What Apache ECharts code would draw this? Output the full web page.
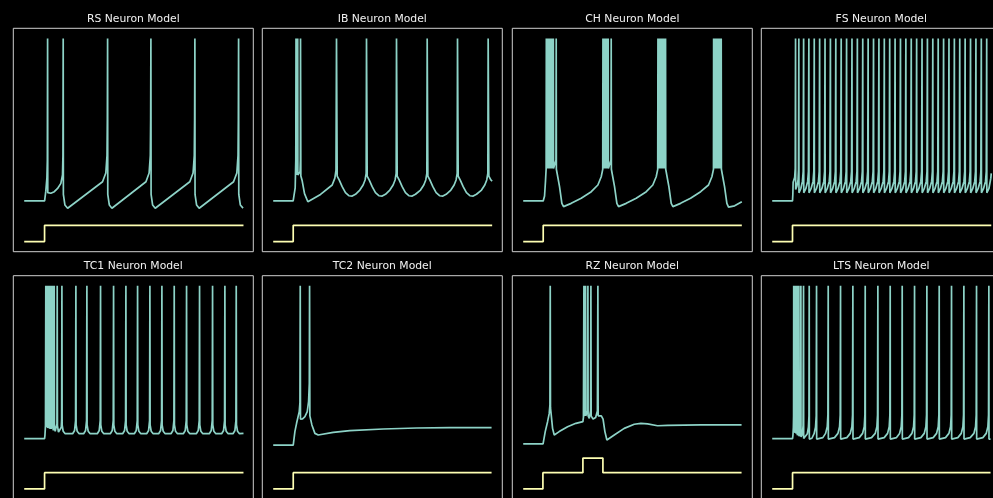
<!DOCTYPE html>
<html><head><meta charset="utf-8">
<script src="https://cdn.jsdelivr.net/npm/echarts@6/dist/echarts.min.js"></script>
<style>html,body{margin:0;padding:0;background:#000;}#chart{width:993px;height:498px;}</style>
</head><body><div id="chart"></div>
<script>
// Titles
const panelTitles = ['RS Neuron Model','IB Neuron Model','CH Neuron Model','FS Neuron Model','TC1 Neuron Model','TC2 Neuron Model','RZ Neuron Model','LTS Neuron Model'];

// Membrane voltage traces [time, mV]
const rsVoltage = [[0,-70],[9.35,-70],[9.9,-64],[10.4,-56],[10.6,-45],[10.72,30],
[10.8,-64.9],[11.2,-64.9],[12.2,-65.3],[13.8,-64.3],[15.3,-62.3],[16.8,-59.2],[17.55,-54],[17.75,-42],[17.87,30],
[17.95,-66],[18.65,-72.5],[19.9,-74.5],[35.9,-58.2],[37.4,-52.8],[37.95,-42],[38.1,-20],[38.22,30],
[38.3,-66],[39.0,-72.5],[40.2,-74.5],[55.8,-58.2],[57.25,-52.8],[57.8,-42],[57.95,-20],[58.07,30],
[58.15,-66],[58.85,-72.5],[60.05,-74.5],[75.9,-58.2],[77.4,-52.8],[77.95,-42],[78.1,-20],[78.23,30],
[78.3,-66],[79.0,-72.5],[80.2,-74.5],[95.95,-58.2],[97.45,-52.8],[98.0,-42],[98.15,-20],[98.26,30],
[98.35,-66],[99.05,-72.5],[100.3,-74.4]];

const ibVoltage = [[0,-70],[9.15,-70],[9.46,-69],[10.07,-62],[10.35,-45],[10.45,30],[10.52,-54],[10.78,-50],[10.84,30],[10.9,-54],[11.16,-50],[11.22,30],[11.3,-54],[11.8,-54.5],[12.3,-52],[12.45,-45],[12.52,30],
[12.67,-54.6],[13.28,-57.6],[14.35,-65.5],[15.88,-70.5],[21.68,-66.0],[27.03,-60.2],[28.25,-56],[28.78,-51],[29.01,30],
[29.32,-54.7],[30.23,-57.1],[31.61,-61.2],[33.11,-64.9],[34.66,-66.8],[36.21,-67.0],[37.71,-65.9],[39.71,-63.3],[41.21,-60.2],[42.11,-57.1],[42.61,-53.0],[42.76,30],
[43.07,-54.7],[43.98,-57.1],[45.36,-61.2],[46.86,-64.9],[48.41,-66.8],[49.96,-67.0],[51.46,-65.9],[53.46,-63.3],[54.96,-60.2],[55.86,-57.1],[56.36,-53.0],[56.51,30],
[56.82,-54.7],[57.73,-57.1],[59.11,-61.2],[60.61,-64.9],[62.16,-66.8],[63.71,-67.0],[65.21,-65.9],[67.52,-63.3],[69.02,-60.2],[69.92,-57.1],[70.42,-53.0],[70.57,30],
[70.88,-54.7],[71.79,-57.1],[73.17,-61.2],[74.67,-64.9],[76.22,-66.8],[77.77,-67.0],[79.27,-65.9],[81.42,-63.3],[82.92,-60.2],[83.82,-57.1],[84.32,-53.0],[84.47,30],
[84.78,-54.7],[85.69,-57.1],[87.07,-61.2],[88.57,-64.9],[90.12,-66.8],[91.67,-67.0],[93.17,-65.9],[95.47,-63.3],[96.97,-60.2],[97.87,-57.1],[98.37,-53.0],[98.52,30],
[98.83,-54.7],[99.74,-57.1],[100.35,-57.8]];

const chVoltage = [[0,-70],[9.17,-70],[9.47,-70],[9.78,-67],[10.2,-58],[10.5,-50.5],
[10.6,30],[10.68,-50],[11.0,30],[11.08,-50],[11.4,30],[11.48,-50],[11.8,30],[11.88,-50],[12.2,30],[12.28,-50],[12.6,30],[12.68,-50],[13.0,30],[13.08,-50],[13.4,30],[13.48,-50],[13.8,30],[13.88,-50],
[14.05,-50.5],[14.67,-51],[15.0,-45],[15.12,30],[15.2,-50.5],[15.58,-51],[16.65,-61.2],[17.72,-71.5],[18.48,-73.5],[22.0,-71.5],[26.58,-68.4],[31.2,-64.3],[34.22,-60.2],[35.75,-55.1],[36.45,-50.6],
[36.55,30],[36.63,-50],[36.95,30],[37.03,-50],[37.35,30],[37.43,-50],[37.75,30],[37.83,-50],[38.15,30],[38.23,-50],[38.55,30],[38.63,-50],[38.95,30],[39.03,-50],
[39.7,-51],[40.2,-45],[40.33,30],[40.41,-50.5],[40.79,-51],[41.86,-61.2],[42.93,-71.5],[43.69,-73.5],[47.21,-71.5],[51.79,-68.4],[56.41,-64.3],[59.4,-60.2],[60.95,-55.1],[61.65,-50.6],
[61.75,30],[61.83,-50],[62.2,30],[62.28,-50],[62.65,30],[62.73,-50],[63.1,30],[63.18,-50],[63.55,30],[63.63,-50],[64.0,30],[64.08,-50],[64.45,30],[64.53,-50],
[64.9,-51],[65.15,-45],[65.24,30],[65.32,-50.5],[65.7,-51],[66.77,-61.2],[67.84,-71.5],[68.6,-73.5],[72.12,-71.5],[76.7,-68.4],[81.32,-64.3],[84.93,-60.2],[86.48,-55.1],[87.2,-50.6],
[87.28,30],[87.36,-50],[87.73,30],[87.81,-50],[88.18,30],[88.26,-50],[88.63,30],[88.71,-50],[89.08,30],[89.16,-50],[89.53,30],[89.61,-50],[89.98,30],[90.06,-50],
[90.4,-51],[90.65,-45],[90.75,30],[90.83,-50.5],[91.21,-51],[92.28,-61.2],[93.35,-71.5],[94.11,-73.8],[96.9,-73],[100.2,-70.5]];

const fsVoltage = [[0,-70],[9.3,-70],[9.45,-66],[9.6,-58.5],[10.3,-55.5],[10.55,-50],[10.70,30],
[10.76,-63],[11.3,-61],[11.85,-57],[12.05,-51],[12.20,30],
[12.26,-65],[13.1,-62.5],[13.85,-58],[14.2,-52],[14.40,30],
[14.46,-65],[15.4,-62.5],[16.25,-58],[16.6,-52],[16.80,30],
[16.86,-65],[17.8,-62.5],[18.72,-58],[19.07,-52],[19.27,30],
[19.33,-65],[20.27,-62.5],[21.19,-58],[21.54,-52],[21.74,30],
[21.8,-65],[22.74,-62.5],[23.66,-58],[24.01,-52],[24.21,30],
[24.27,-65],[25.21,-62.5],[26.13,-58],[26.48,-52],[26.68,30],
[26.74,-65],[27.68,-62.5],[28.6,-58],[28.95,-52],[29.15,30],
[29.21,-65],[30.15,-62.5],[31.07,-58],[31.42,-52],[31.62,30],
[31.68,-65],[32.62,-62.5],[33.54,-58],[33.89,-52],[34.09,30],
[34.15,-65],[35.09,-62.5],[36.01,-58],[36.36,-52],[36.56,30],
[36.62,-65],[37.56,-62.5],[38.48,-58],[38.83,-52],[39.03,30],
[39.09,-65],[40.03,-62.5],[40.95,-58],[41.3,-52],[41.5,30],
[41.56,-65],[42.5,-62.5],[43.42,-58],[43.77,-52],[43.97,30],
[44.03,-65],[44.97,-62.5],[45.89,-58],[46.24,-52],[46.44,30],
[46.5,-65],[47.44,-62.5],[48.36,-58],[48.71,-52],[48.91,30],
[48.97,-65],[49.91,-62.5],[50.83,-58],[51.18,-52],[51.38,30],
[51.44,-65],[52.38,-62.5],[53.3,-58],[53.65,-52],[53.85,30],
[53.91,-65],[54.85,-62.5],[55.77,-58],[56.12,-52],[56.32,30],
[56.38,-65],[57.32,-62.5],[58.24,-58],[58.59,-52],[58.79,30],
[58.85,-65],[59.79,-62.5],[60.71,-58],[61.06,-52],[61.26,30],
[61.32,-65],[62.26,-62.5],[63.18,-58],[63.53,-52],[63.73,30],
[63.79,-65],[64.73,-62.5],[65.65,-58],[66.0,-52],[66.2,30],
[66.26,-65],[67.2,-62.5],[68.12,-58],[68.47,-52],[68.67,30],
[68.73,-65],[69.67,-62.5],[70.59,-58],[70.94,-52],[71.14,30],
[71.2,-65],[72.14,-62.5],[73.06,-58],[73.41,-52],[73.61,30],
[73.67,-65],[74.61,-62.5],[75.53,-58],[75.88,-52],[76.08,30],
[76.14,-65],[77.08,-62.5],[78.0,-58],[78.35,-52],[78.55,30],
[78.61,-65],[79.55,-62.5],[80.47,-58],[80.82,-52],[81.02,30],
[81.08,-65],[82.02,-62.5],[82.94,-58],[83.29,-52],[83.49,30],
[83.55,-65],[84.49,-62.5],[85.41,-58],[85.76,-52],[85.96,30],
[86.02,-65],[86.96,-62.5],[87.88,-58],[88.23,-52],[88.43,30],
[88.49,-65],[89.43,-62.5],[90.35,-58],[90.7,-52],[90.9,30],
[90.96,-65],[91.9,-62.5],[92.82,-58],[93.17,-52],[93.37,30],
[93.43,-65],[94.37,-62.5],[95.29,-58],[95.64,-52],[95.84,30],
[95.9,-65],[96.84,-62.5],[97.76,-58],[98.11,-52],[98.31,30],
[98.37,-65],[99.31,-62.5],[100.2,-56],[100.4,-53]];

const tc1Voltage = [[0,-64],[9.33,-64],[9.5,-62],[9.75,-56],[9.9,30],
[9.96,-57],[10.22,-54],[10.3,30],
[10.36,-57],[10.62,-54],[10.72,30],
[10.79,-57.5],[11.06,-55],[11.18,30],
[11.25,-57.5],[11.52,-55],[11.64,30],
[11.71,-58],[12.05,-56],[12.24,30],
[12.32,-58],[12.7,-57],[12.9,-54],[13.02,30],
[13.1,-57],[13.35,-59],[13.58,-57],[13.68,-53],[13.75,30],
[13.85,-56],[14.2,-59.5],[14.75,-59.5],[15.0,-55],[15.12,30],
[15.24,-56],[15.7,-60],[16.5,-60],[17.0,-57],[17.16,-52],[17.28,30],
[17.38,-55.5],[17.88,-59.5],[18.78,-61],[22.19,-61],[23.09,-59],[23.54,-53],[23.69,30],
[23.79,-55.5],[24.29,-59.5],[25.19,-61],[27.23,-61],[28.13,-59],[28.58,-53],[28.73,30],
[28.83,-55.5],[29.33,-59.5],[30.23,-61],[33.49,-61],[34.39,-59],[34.84,-53],[34.99,30],
[35.09,-55.5],[35.59,-59.5],[36.49,-61],[39.46,-61],[40.36,-59],[40.81,-53],[40.96,30],
[41.06,-55.5],[41.56,-59.5],[42.46,-61],[45.11,-61],[46.01,-59],[46.46,-53],[46.61,30],
[46.71,-55.5],[47.21,-59.5],[48.11,-61],[50.46,-61],[51.36,-59],[51.81,-53],[51.96,30],
[52.06,-55.5],[52.56,-59.5],[53.46,-61],[56.11,-61],[57.01,-59],[57.46,-53],[57.61,30],
[57.71,-55.5],[58.21,-59.5],[59.11,-61],[61.61,-61],[62.51,-59],[62.96,-53],[63.11,30],
[63.21,-55.5],[63.71,-59.5],[64.61,-61],[67.26,-61],[68.16,-59],[68.61,-53],[68.76,30],
[68.86,-55.5],[69.36,-59.5],[70.26,-61],[72.91,-61],[73.81,-59],[74.26,-53],[74.41,30],
[74.51,-55.5],[75.01,-59.5],[75.91,-61],[78.87,-61],[79.77,-59],[80.22,-53],[80.37,30],
[80.47,-55.5],[80.97,-59.5],[81.87,-61],[84.83,-61],[85.73,-59],[86.18,-53],[86.33,30],
[86.43,-55.5],[86.93,-59.5],[87.83,-61],[90.48,-61],[91.38,-59],[91.83,-53],[91.98,30],
[92.08,-55.5],[92.58,-59.5],[93.48,-61],[95.68,-61],[96.58,-59],[97.03,-53],[97.18,30],
[97.28,-55.5],[97.78,-59.5],[98.68,-61],[100.5,-60.8]];

const tc2Voltage = [[0,-68],[9.18,-68],[9.94,-59.7],[10.71,-54.6],[11.93,-47.4],[12.25,-42],[12.39,30],[12.5,-52],[12.69,-52.6],[13.46,-51.9],[14.53,-50.5],[15.6,-47.4],[16.21,-41.3],[16.55,-30],[16.67,30],
[16.8,-50],[17.73,-55.6],[19.11,-60.8],[20.64,-61.8],[27.51,-60.2],[35.15,-59.1],[50.43,-58.1],[65.7,-57.5],[80.98,-57.3],[100.08,-57.3]];

const rzVoltage = [[0,-67.3],[9.1,-67.3],[10.1,-59.7],[11.17,-53.6],[11.93,-48.5],[12.24,-43.3],[12.39,30],[12.5,-45],[12.69,-47.4],[13.46,-57.7],[14.22,-61.8],[16.51,-59.7],[20.33,-56.7],[24.15,-54.6],[27.36,-53.6],
[27.6,-51],[27.82,30],[27.9,-50],[28.2,-51],[28.45,-48],[28.58,30],[28.66,-50],[29.1,-51],[29.5,-47],[29.65,30],[29.75,-50],[30.3,-51.5],[30.85,-47],[31.03,30],[31.15,-50],[32.0,-52],[33.2,-51],[34.0,-47],[34.23,30],
[34.35,-50],[35.0,-51],[35.8,-50],[36.37,-49.5],[36.6,-52],[37.44,-59.7],[38.36,-64.9],[41.72,-61.8],[46.3,-57.7],[50.89,-55.2],[53.94,-54.6],[57.0,-55.0],[61.58,-56.1],[66.17,-55.9],[81.44,-55.6],[100.08,-55.6]];

const ltsVoltage = [[0,-64],[9.32,-64],[9.5,-62],[9.7,-57],[9.8,-50],[9.86,30],
[9.92,-60],[10.2,-58],[10.33,-50],[10.39,30],
[10.45,-60.5],[10.75,-58],[10.87,-50],[10.93,30],
[10.99,-61],[11.28,-58.5],[11.4,-50],[11.46,30],
[11.52,-62],[11.9,-60],[12.12,-54],[12.23,30],
[12.29,-62.5],[12.75,-61],[13.0,-55],[13.14,30],
[13.2,-63],[13.8,-61.5],[14.15,-56],[14.36,30],
[14.42,-64],[15.2,-63.5],[16.1,-61],[16.6,-57],[16.85,-50],[16.96,30],
[17.02,-64.3],[18.2,-63.8],[19.2,-61],[19.85,-57],[20.17,-50],[20.32,30],
[20.38,-64.3],[20.9,-64.3],[23.2,-63.4],[24.47,-60.8],[25.22,-56.7],[25.52,-49.5],[25.67,30],
[25.73,-64.3],[26.27,-64.3],[28.57,-63.4],[30.12,-60.8],[30.87,-56.7],[31.17,-49.5],[31.32,30],
[31.38,-64.3],[31.92,-64.3],[34.22,-63.4],[35.77,-60.8],[36.52,-56.7],[36.82,-49.5],[36.97,30],
[37.03,-64.3],[37.57,-64.3],[39.87,-63.4],[41.43,-60.8],[42.18,-56.7],[42.48,-49.5],[42.63,30],
[42.69,-64.3],[43.23,-64.3],[45.53,-63.4],[47.23,-60.8],[47.98,-56.7],[48.28,-49.5],[48.43,30],
[48.49,-64.3],[49.03,-64.3],[51.33,-63.4],[52.88,-60.8],[53.63,-56.7],[53.93,-49.5],[54.08,30],
[54.14,-64.3],[54.68,-64.3],[56.98,-63.4],[58.38,-60.8],[59.13,-56.7],[59.43,-49.5],[59.58,30],
[59.64,-64.3],[60.18,-64.3],[62.48,-63.4],[64.04,-60.8],[64.79,-56.7],[65.09,-49.5],[65.24,30],
[65.3,-64.3],[65.84,-64.3],[68.14,-63.4],[69.69,-60.8],[70.44,-56.7],[70.74,-49.5],[70.89,30],
[70.95,-64.3],[71.49,-64.3],[73.79,-63.4],[75.34,-60.8],[76.09,-56.7],[76.39,-49.5],[76.54,30],
[76.6,-64.3],[77.14,-64.3],[79.44,-63.4],[80.99,-60.8],[81.74,-56.7],[82.04,-49.5],[82.19,30],
[82.25,-64.3],[82.79,-64.3],[85.09,-63.4],[86.65,-60.8],[87.4,-56.7],[87.7,-49.5],[87.85,30],
[87.91,-64.3],[88.45,-64.3],[90.75,-63.4],[92.45,-60.8],[93.2,-56.7],[93.5,-49.5],[93.65,30],
[93.71,-64.3],[94.25,-64.3],[96.55,-63.4],[98.1,-60.8],[98.85,-56.7],[99.15,-49.5],[99.3,30],
[99.36,-64.3],[100.07,-64.3]];

// Injected current traces (offset, same axis) [time, level]
const rsCurrent = [[0,-95],[9.33,-95],[9.33,-85],[100.5,-85]];
const ibCurrent = [[0,-95],[9.17,-95],[9.17,-85],[100.35,-85]];
const chCurrent = [[0,-95],[9.17,-95],[9.17,-85],[100.2,-85]];
const fsCurrent = [[0,-95],[9.3,-95],[9.3,-85],[100.4,-85]];
const tc1Current = [[0,-95],[9.33,-95],[9.33,-85],[100.5,-85]];
const tc2Current = [[0,-95],[9.18,-95],[9.18,-85],[100.08,-85]];
const rzCurrent = [[0,-95],[9.03,-95],[9.03,-85],[27.36,-85],[27.36,-76],[36.53,-76],[36.53,-85],[100.08,-85]];
const ltsCurrent = [[0,-95],[9.32,-95],[9.32,-85],[100.07,-85]];

const voltageTraces = [rsVoltage, ibVoltage, chVoltage, fsVoltage, tc1Voltage, tc2Voltage, rzVoltage, ltsVoltage];
const currentTraces = [rsCurrent, ibCurrent, chCurrent, fsCurrent, tc1Current, tc2Current, rzCurrent, ltsCurrent];

const chart = echarts.init(document.getElementById('chart'), null, {renderer: 'canvas'});
const boxLeft = [13.3, 262.3, 512.3, 761.3];
const boxTop = [28.3, 275.7];
const titleY = [19.2, 266.6];
const boxW = 240, boxH = 223.4;
const grids = [], xAxes = [], yAxes = [], series = [], titles = [];
for (let i = 0; i < 8; i++) {
  const r = Math.floor(i / 4), c = i % 4;
  grids.push({left: boxLeft[c], top: boxTop[r], width: boxW, height: boxH, show: true,
    borderColor: '#cfcfcf', borderWidth: 1, backgroundColor: '#000', containLabel: false, outerBoundsMode: 'none'});
  xAxes.push({type: 'value', gridIndex: i, min: -5, max: 105, show: false});
  yAxes.push({type: 'value', gridIndex: i, min: -101.25, max: 36.25, show: false});
  series.push({type: 'line', xAxisIndex: i, yAxisIndex: i, data: voltageTraces[i], showSymbol: false, symbol: 'none',
    lineStyle: {color: '#8dd3c7', width: 1.7}, itemStyle: {color: '#8dd3c7'}, silent: true, z: 3});
  series.push({type: 'line', xAxisIndex: i, yAxisIndex: i, data: currentTraces[i], showSymbol: false, symbol: 'none',
    lineStyle: {color: '#feffb3', width: 1.7}, itemStyle: {color: '#feffb3'}, silent: true, z: 2});
  titles.push({text: panelTitles[i], left: boxLeft[c] + boxW / 2, top: titleY[r], textAlign: 'center', textVerticalAlign: 'middle', padding: 0,
    textStyle: {color: '#f2f2f2', fontSize: 10.8, fontWeight: 'normal', fontFamily: 'DejaVu Sans'}});
}
chart.setOption({
  backgroundColor: '#000',
  animation: false,
  title: titles,
  grid: grids,
  xAxis: xAxes,
  yAxis: yAxes,
  series: series
});
</script>
</body></html>
